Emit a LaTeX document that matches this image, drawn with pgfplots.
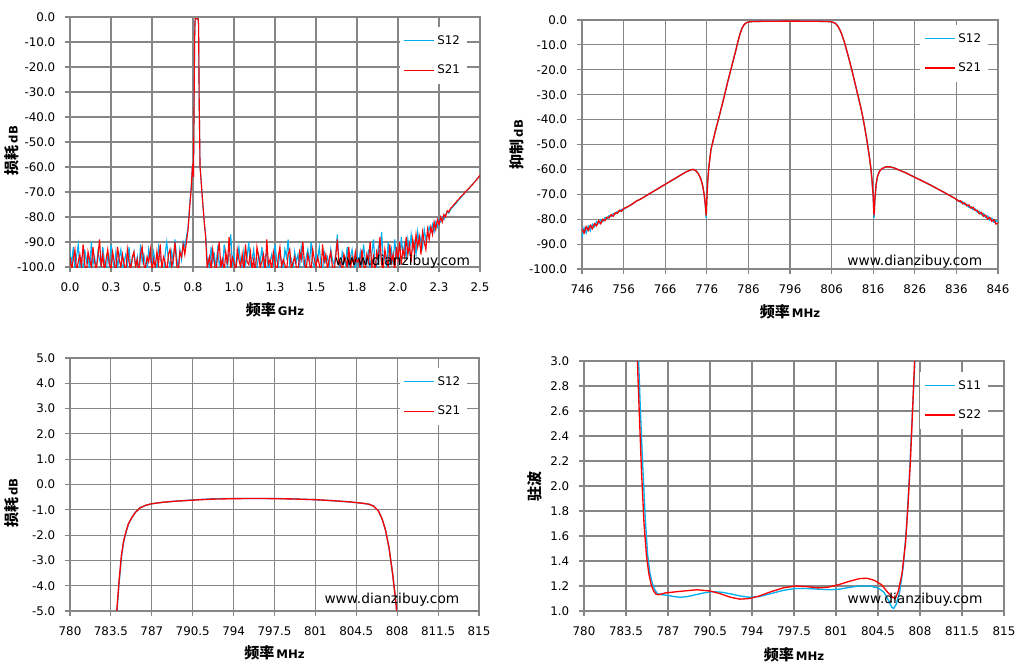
\documentclass[border=0pt]{standalone}
\usepackage{fontspec}
\setmainfont{DejaVu Sans}
\newfontfamily\cjk{Noto Sans CJK SC}
\usepackage{pgfplots}
\pgfplotsset{compat=1.18}
\definecolor{sblue}{RGB}{0,176,240}
\definecolor{sred}{RGB}{255,0,0}
\definecolor{gridgray}{RGB}{134,134,134}
\newcommand\tickfont{\fontsize{8.9pt}{10pt}\selectfont}
\newcommand\wmfont{\fontsize{10.3pt}{12pt}\selectfont}
\newcommand\lab[2]{{\fontsize{11.3pt}{12pt}\selectfont\cjk\bfseries #1}\hspace{1.5pt}{\fontsize{8.8pt}{10pt}\selectfont\bfseries #2}}
\pgfplotsset{
  common/.style={
    scale only axis, anchor=north west, clip mode=individual,
    axis line style={draw=gridgray, line width=0.8pt},
    grid=major, major grid style={draw=gridgray, line width=0.8pt},
    tick align=outside, tick pos=left, major tick length=4pt,
    tick style={draw=gridgray, line width=0.8pt},
    ticklabel style={font=\tickfont},
    /pgf/number format/assume math mode=true,
    xticklabel style={yshift=-4pt},
    yticklabel style={xshift=-3.5pt},
    x label style={anchor=center},
    y label style={anchor=center},
    legend style={draw=none, fill=white, font=\tickfont, inner xsep=3pt, inner ysep=4pt, row sep=10pt, cells={anchor=west}},
    legend image code/.code={\draw[#1] (0pt,0pt) -- (22.5pt,0pt);},
    /tikz/every even column/.append style={column sep=1pt},
  },
  ydec/.style={yticklabel style={/pgf/number format/.cd, fixed, fixed zerofill, precision=1}},
}
\begin{document}
\begin{tikzpicture}
\path[use as bounding box] (0,0) rectangle (770.25pt,-500.25pt);

%================ top left =================
\begin{axis}[common, ydec, at={(52.5pt,-12.75pt)}, width=307.5pt, height=187.5pt,
  xmin=0, xmax=2.5, ymin=-100, ymax=0,
  xtick={0,0.25,0.5,0.75,1,1.25,1.5,1.75,2,2.25,2.5},
  xticklabels={0.0,0.3,0.5,0.8,1.0,1.3,1.5,1.8,2.0,2.3,2.5},
  ytick={-100,-90,-80,-70,-60,-50,-40,-30,-20,-10,0},
  xlabel={\lab{频率}{GHz}}, ylabel={\lab{损耗}{dB}},
  x label style={at={(axis description cs:0.5,-0.172)}},
  y label style={at={(axis description cs:-0.1415,0.465)}},
  legend style={at={(axis description cs:0.968,0.96)}, anchor=north east}]
\addplot[sblue, line width=0.85pt] coordinates {
(0.00,-94)(0.01,-99)(0.02,-92)(0.03,-101)(0.04,-96)(0.05,-91)(0.06,-100)(0.07,-97)(0.08,-103)(0.09,-93)
(0.10,-98)(0.11,-95)(0.12,-102)(0.13,-90)(0.14,-99)(0.15,-96)(0.16,-101)(0.17,-94)(0.18,-97)(0.19,-100)
(0.20,-92)(0.21,-98)(0.22,-103)(0.23,-95)(0.24,-99)(0.25,-91)(0.26,-97)(0.27,-101)(0.28,-94)(0.29,-100)
(0.30,-96)(0.31,-93)(0.32,-102)(0.33,-98)(0.34,-95)(0.35,-99)(0.36,-92)(0.37,-101)(0.38,-97)(0.39,-94)
(0.40,-100)(0.41,-96)(0.42,-103)(0.43,-91)(0.44,-98)(0.45,-95)(0.46,-99)(0.47,-102)(0.48,-93)(0.49,-97)
(0.50,-100)(0.51,-94)(0.52,-98)(0.53,-101)(0.54,-92)(0.55,-96)(0.56,-99)(0.57,-103)(0.58,-95)(0.59,-90)
(0.60,-97)(0.61,-100)(0.62,-94)(0.63,-98)(0.64,-89)(0.65,-96)(0.66,-101)(0.67,-93)(0.68,-97)(0.69,-90)
(0.70,-92)(0.71,-88)(0.72,-84)(0.73,-75)(0.74,-67)(0.746,-60)(0.750,-59.5)(0.753,-64)(0.756,-40)(0.760,-8)
(0.763,-0.7)(0.781,-0.7)(0.784,-3)(0.788,-35)(0.793,-60)(0.796,-62)(0.800,-66)(0.810,-75)(0.820,-83)(0.827,-87)(0.833,-93)(0.837,-99)
(0.84,-96)(0.85,-101)(0.86,-92)(0.87,-98)(0.88,-95)(0.89,-100)(0.90,-93)(0.91,-99)(0.92,-97)(0.93,-102)
(0.94,-91)(0.95,-96)(0.96,-100)(0.97,-94)(0.98,-87)(0.99,-99)(1.00,-95)(1.01,-101)(1.02,-97)(1.03,-92)
(1.04,-98)(1.05,-103)(1.06,-94)(1.07,-99)(1.08,-96)(1.09,-90)(1.10,-100)(1.11,-97)(1.12,-93)(1.13,-99)
(1.14,-101)(1.15,-95)(1.16,-98)(1.17,-92)(1.18,-100)(1.19,-96)(1.20,-94)(1.21,-102)(1.22,-98)(1.23,-95)
(1.24,-99)(1.25,-91)(1.26,-97)(1.27,-100)(1.28,-94)(1.29,-98)(1.30,-101)(1.31,-93)(1.32,-96)(1.33,-89)
(1.34,-99)(1.35,-97)(1.36,-102)(1.37,-94)(1.38,-98)(1.39,-95)(1.40,-100)(1.41,-92)(1.42,-97)(1.43,-101)
(1.44,-96)(1.45,-93)(1.46,-99)(1.47,-90)(1.48,-98)(1.49,-100)(1.50,-95)(1.51,-97)(1.52,-92)(1.53,-99)
(1.54,-101)(1.55,-94)(1.56,-98)(1.57,-96)(1.58,-100)(1.59,-93)(1.60,-97)(1.61,-99)(1.62,-95)(1.63,-87)
(1.64,-98)(1.65,-101)(1.66,-94)(1.67,-97)(1.68,-99)(1.69,-92)(1.70,-100)(1.71,-96)(1.72,-93)(1.73,-98)
(1.74,-101)(1.75,-95)(1.76,-99)(1.77,-94)(1.78,-100)(1.79,-91)(1.80,-97)(1.81,-99)(1.82,-93)(1.83,-101)
(1.84,-95)(1.85,-89)(1.86,-98)(1.87,-100)(1.88,-92)(1.89,-96)(1.90,-86)(1.91,-97)(1.92,-95)(1.93,-100)
(1.94,-90)(1.95,-98)(1.96,-93)(1.97,-99)(1.98,-89)(1.99,-96)(2.00,-94)(2.01,-99)(2.02,-88)(2.03,-95)
(2.04,-91)(2.05,-97)(2.06,-89)(2.07,-94)(2.08,-87)(2.09,-93)(2.10,-90)(2.11,-95)(2.12,-86)(2.13,-91)
(2.14,-88)(2.15,-92)(2.16,-85)(2.17,-89)(2.18,-87)(2.19,-84)(2.20,-86)(2.21,-83)(2.22,-86)(2.23,-82)
(2.24,-84)(2.25,-81)(2.26,-82)(2.27,-80)(2.28,-81)(2.29,-79)(2.30,-78)(2.31,-78.5)(2.32,-77)(2.33,-76.3)
(2.34,-75.5)(2.35,-74.8)(2.36,-74)(2.37,-73.2)(2.38,-72.5)(2.39,-71.6)(2.40,-71)(2.41,-70.2)(2.42,-69.4)(2.43,-68.8)
(2.44,-67.9)(2.45,-67.3)(2.46,-66.5)(2.47,-65.8)(2.48,-64.9)(2.49,-64.2)(2.50,-63.4)
};
\addlegendentry{S12}
\addplot[sred, line width=0.85pt] coordinates {
(0.00,-96)(0.01,-101)(0.02,-97)(0.03,-93)(0.04,-102)(0.05,-98)(0.06,-95)(0.07,-100)(0.08,-91)(0.09,-99)
(0.10,-103)(0.11,-94)(0.12,-97)(0.13,-100)(0.14,-92)(0.15,-98)(0.16,-101)(0.17,-96)(0.18,-89)(0.19,-100)
(0.20,-95)(0.21,-102)(0.22,-97)(0.23,-93)(0.24,-99)(0.25,-101)(0.26,-94)(0.27,-98)(0.28,-103)(0.29,-92)
(0.30,-97)(0.31,-100)(0.32,-95)(0.33,-99)(0.34,-102)(0.35,-93)(0.36,-98)(0.37,-101)(0.38,-96)(0.39,-94)
(0.40,-100)(0.41,-97)(0.42,-103)(0.43,-95)(0.44,-92)(0.45,-99)(0.46,-101)(0.47,-96)(0.48,-98)(0.49,-93)
(0.50,-102)(0.51,-97)(0.52,-100)(0.53,-94)(0.54,-99)(0.55,-91)(0.56,-101)(0.57,-96)(0.58,-98)(0.59,-103)
(0.60,-95)(0.61,-93)(0.62,-100)(0.63,-97)(0.64,-90)(0.65,-99)(0.66,-102)(0.67,-94)(0.68,-96)(0.69,-91)
(0.70,-95)(0.71,-90)(0.72,-85)(0.73,-76)(0.74,-68)(0.746,-60)(0.750,-59)(0.753,-64)(0.756,-40)(0.760,-8)
(0.763,-0.7)(0.781,-0.7)(0.784,-3)(0.788,-35)(0.793,-60)(0.796,-62.5)(0.800,-66)(0.810,-75)(0.820,-83)(0.827,-88)(0.833,-96)(0.837,-101)
(0.84,-99)(0.85,-96)(0.86,-101)(0.87,-93)(0.88,-98)(0.89,-103)(0.90,-95)(0.91,-90)(0.92,-100)(0.93,-97)
(0.94,-102)(0.95,-94)(0.96,-99)(0.97,-88)(0.98,-101)(0.99,-96)(1.00,-98)(1.01,-103)(1.02,-93)(1.03,-97)
(1.04,-100)(1.05,-95)(1.06,-102)(1.07,-91)(1.08,-98)(1.09,-99)(1.10,-94)(1.11,-101)(1.12,-97)(1.13,-103)
(1.14,-92)(1.15,-96)(1.16,-100)(1.17,-98)(1.18,-95)(1.19,-102)(1.20,-89)(1.21,-99)(1.22,-97)(1.23,-101)
(1.24,-94)(1.25,-98)(1.26,-103)(1.27,-96)(1.28,-92)(1.29,-100)(1.30,-97)(1.31,-99)(1.32,-102)(1.33,-95)
(1.34,-93)(1.35,-101)(1.36,-98)(1.37,-96)(1.38,-100)(1.39,-103)(1.40,-94)(1.41,-97)(1.42,-90)(1.43,-99)
(1.44,-101)(1.45,-95)(1.46,-98)(1.47,-102)(1.48,-93)(1.49,-97)(1.50,-100)(1.51,-96)(1.52,-99)(1.53,-103)
(1.54,-91)(1.55,-98)(1.56,-95)(1.57,-101)(1.58,-97)(1.59,-94)(1.60,-100)(1.61,-102)(1.62,-96)(1.63,-89)
(1.64,-99)(1.65,-98)(1.66,-103)(1.67,-95)(1.68,-97)(1.69,-100)(1.70,-92)(1.71,-101)(1.72,-96)(1.73,-99)
(1.74,-94)(1.75,-98)(1.76,-97)(1.77,-101)(1.78,-93)(1.79,-99)(1.80,-102)(1.81,-95)(1.82,-98)(1.83,-90)
(1.84,-100)(1.85,-96)(1.86,-103)(1.87,-94)(1.88,-97)(1.89,-88)(1.90,-99)(1.91,-101)(1.92,-93)(1.93,-97)
(1.94,-100)(1.95,-91)(1.96,-98)(1.97,-95)(1.98,-102)(1.99,-92)(2.00,-97)(2.01,-90)(2.02,-99)(2.03,-93)
(2.04,-96)(2.05,-88)(2.06,-95)(2.07,-91)(2.08,-98)(2.09,-89)(2.10,-94)(2.11,-87)(2.12,-92)(2.13,-88)
(2.14,-95)(2.15,-86)(2.16,-90)(2.17,-93)(2.18,-85)(2.19,-89)(2.20,-84)(2.21,-87)(2.22,-82)(2.23,-85)
(2.24,-81)(2.25,-83)(2.26,-80)(2.27,-82)(2.28,-79)(2.29,-80)(2.30,-77.5)(2.31,-78)(2.32,-76.5)(2.33,-76)
(2.34,-75)(2.35,-74.5)(2.36,-73.5)(2.37,-73)(2.38,-72)(2.39,-71.5)(2.40,-70.8)(2.41,-70)(2.42,-69.3)(2.43,-68.7)
(2.44,-68)(2.45,-67.3)(2.46,-66.6)(2.47,-65.8)(2.48,-65)(2.49,-64.2)(2.50,-63.3)
};
\addlegendentry{S21}
\node[font=\wmfont, anchor=base] at (axis description cs:0.811,0.008) {www.dianzibuy.com};
\end{axis}

%================ top right =================
\begin{axis}[common, ydec, at={(436.5pt,-15pt)}, width=312pt, height=186.75pt,
  xmin=746, xmax=846, ymin=-100, ymax=0,
  xtick={746,756,766,776,786,796,806,816,826,836,846},
  ytick={-100,-90,-80,-70,-60,-50,-40,-30,-20,-10,0},
  xticklabel style={/pgf/number format/.cd, fixed, precision=0, 1000 sep={}},
  xlabel={\lab{频率}{MHz}}, ylabel={\lab{抑制}{dB}},
  x label style={at={(axis description cs:0.5,-0.173)}},
  y label style={at={(axis description cs:-0.156,0.5)}},
  legend style={at={(axis description cs:0.976,0.98)}, anchor=north east}]
\addplot[sblue, line width=1pt] coordinates {
(746,-87.5)(746.5,-83.5)(747,-85.5)(747.5,-82.8)(748,-84.6)(748.5,-82)(749,-83)(749.5,-81)(750,-81.8)(750.5,-80.2)
(751,-80.9)(751.5,-79.4)(752,-79.8)(752.5,-78.6)(753,-78.9)(753.5,-77.8)(754,-77.9)(754.5,-76.9)(755,-77)(755.5,-76.1)
(756,-76)(757,-75)(758,-74)(759,-72.8)(760,-72)(762,-70)(764,-68)(766,-66)(768,-64)(770,-62)(771,-61)(772,-60.3)
(772.7,-60)(773.3,-60.4)(774,-61.8)(774.6,-64)(775.0,-66.5)(775.4,-70.5)(775.7,-75.5)(775.85,-79.5)(776.0,-72)(776.2,-65)
(776.5,-59)(777,-52)(778,-45)(779,-38.5)(780,-32)(781,-25)(782,-18.5)(783,-12)(783.5,-8.5)(784,-5.5)(784.5,-3.2)
(785,-1.8)(785.5,-1.1)(786,-0.8)(787,-0.6)(790,-0.5)(796,-0.45)(802,-0.5)(805,-0.6)(806,-0.75)(806.5,-1.0)(807,-1.5)
(807.5,-2.5)(808,-4)(808.5,-6)(809,-8.5)(810,-14.5)(811,-21)(812,-28)(813,-35)(813.5,-39)(814,-43.5)(814.5,-48.5)
(815,-54)(815.4,-59)(815.7,-64)(816.0,-71)(816.2,-79.5)(816.4,-72)(816.7,-66)(817,-63)(817.5,-60.8)(818,-59.8)
(819,-59)(820,-59)(821,-59.4)(822,-60.1)(824,-61.5)(826,-63.2)(828,-64.8)(830,-66.5)(832,-68.3)(834,-70.1)(836,-72)
(836.5,-72.5)(837,-73.3)(837.5,-73)(838,-74.2)(838.5,-74)(839,-75.3)(839.5,-75)(840,-76.2)(840.5,-75.9)(841,-77.2)
(841.5,-76.8)(842,-78.2)(842.5,-77.7)(843,-79.2)(843.5,-78.7)(844,-80.3)(844.5,-79.6)(845,-81.2)(845.5,-80.6)(846,-81)
};
\addlegendentry{S12}
\addplot[sred, line width=1pt] coordinates {
(746,-84)(746.5,-85.5)(747,-83)(747.5,-84.5)(748,-82.5)(748.5,-83.8)(749,-81.8)(749.5,-82.6)(750,-80.6)(750.5,-81.8)
(751,-80)(751.5,-80.6)(752,-79.2)(752.5,-79.5)(753,-78.2)(753.5,-78.8)(754,-77.4)(754.5,-77.6)(755,-76.4)(755.5,-76.8)
(756,-75.7)(757,-75)(758,-74)(759,-72.8)(760,-72)(762,-70)(764,-68)(766,-66)(768,-64)(770,-62)(771,-61)(772,-60.3)
(772.7,-60)(773.3,-60.4)(774,-61.8)(774.6,-64)(775.0,-66.5)(775.4,-70.5)(775.7,-75)(775.85,-78.5)(776.0,-72)(776.2,-65)
(776.5,-59)(777,-52)(778,-45)(779,-38.5)(780,-32)(781,-25)(782,-18.5)(783,-12)(783.5,-8.5)(784,-5.5)(784.5,-3.2)
(785,-1.8)(785.5,-1.1)(786,-0.8)(787,-0.6)(790,-0.5)(796,-0.45)(802,-0.5)(805,-0.6)(806,-0.75)(806.5,-1.0)(807,-1.5)
(807.5,-2.5)(808,-4)(808.5,-6)(809,-8.5)(810,-14.5)(811,-21)(812,-28)(813,-35)(813.5,-39)(814,-43.5)(814.5,-48.5)
(815,-54)(815.4,-59)(815.7,-64)(816.0,-71)(816.2,-78.5)(816.4,-72)(816.7,-66)(817,-63)(817.5,-60.8)(818,-59.8)
(819,-59)(820,-59)(821,-59.4)(822,-60.1)(824,-61.5)(826,-63.2)(828,-64.8)(830,-66.5)(832,-68.3)(834,-70.1)(836,-72)
(836.5,-72.8)(837,-72.6)(837.5,-73.8)(838,-73.5)(838.5,-74.6)(839,-74.3)(839.5,-75.6)(840,-75.2)(840.5,-76.5)(841,-76.4)
(841.5,-77.8)(842,-77.3)(842.5,-78.8)(843,-78.4)(843.5,-79.9)(844,-79.3)(844.5,-80.8)(845,-80.2)(845.5,-81.9)(846,-81.5)
};
\addlegendentry{S21}
\node[font=\wmfont, anchor=base] at (axis description cs:0.80,0.013) {www.dianzibuy.com};
\end{axis}

%================ bottom left =================
\begin{axis}[common, ydec, at={(52.5pt,-268.5pt)}, width=306.75pt, height=189.75pt,
  xmin=780, xmax=815, ymin=-5, ymax=5,
  xtick={780,783.5,787,790.5,794,797.5,801,804.5,808,811.5,815},
  xticklabels={780,783.5,787,790.5,794,797.5,801,804.5,808,811.5,815},
  ytick={-5,-4,-3,-2,-1,0,1,2,3,4,5},
  xlabel={\lab{频率}{MHz}}, ylabel={\lab{损耗}{dB}},
  x label style={at={(axis description cs:0.5,-0.166)}},
  y label style={at={(axis description cs:-0.1418,0.427)}},
  legend style={at={(axis description cs:0.971,0.96)}, anchor=north east}]
\addplot[sblue, line width=1pt] coordinates {
(783.82,-6.5)(784.02,-5.0)(784.22,-3.8)(784.42,-2.8)(784.62,-2.2)(784.82,-1.85)(785.02,-1.55)(785.3,-1.3)(785.6,-1.1)
(786.0,-0.92)(786.5,-0.82)(787.0,-0.76)(788,-0.7)(789,-0.66)(790.5,-0.61)(792,-0.57)(794,-0.55)(796,-0.55)(797.5,-0.55)
(799,-0.57)(801,-0.6)(802.5,-0.64)(804,-0.69)(805,-0.74)(805.6,-0.78)(806.0,-0.86)(806.4,-1.05)(806.7,-1.35)(807.0,-1.8)
(807.3,-2.5)(807.6,-3.5)(807.9,-4.7)(808.1,-6)
};
\addlegendentry{S12}
\addplot[sred, line width=1pt] coordinates {
(783.8,-6.5)(784.0,-5.0)(784.2,-3.8)(784.4,-2.8)(784.6,-2.2)(784.8,-1.85)(785.0,-1.55)(785.3,-1.3)(785.6,-1.1)
(786.0,-0.92)(786.5,-0.82)(787.0,-0.76)(788,-0.7)(789,-0.66)(790.5,-0.62)(792,-0.58)(794,-0.56)(796,-0.55)(797.5,-0.56)
(799,-0.57)(801,-0.6)(802.5,-0.64)(804,-0.69)(805,-0.74)(805.6,-0.78)(806.0,-0.86)(806.4,-1.05)(806.7,-1.35)(807.0,-1.8)
(807.3,-2.5)(807.6,-3.5)(807.9,-4.7)(808.1,-6)
};
\addlegendentry{S21}
\node[font=\wmfont, anchor=base] at (axis description cs:0.787,0.03) {www.dianzibuy.com};
\end{axis}

%================ bottom right =================
\begin{axis}[common, at={(438pt,-270.75pt)}, width=315pt, height=187.5pt,
  xmin=780, xmax=815, ymin=1, ymax=3,
  xtick={780,783.5,787,790.5,794,797.5,801,804.5,808,811.5,815},
  xticklabels={780,783.5,787,790.5,794,797.5,801,804.5,808,811.5,815},
  ytick={1,1.2,1.4,1.6,1.8,2,2.2,2.4,2.6,2.8,3},
  yticklabels={1.0,1.2,1.4,1.6,1.8,2.0,2.2,2.4,2.6,2.8,3.0},
  xlabel={\lab{频率}{MHz}}, ylabel={{\fontsize{11.3pt}{12pt}\selectfont\cjk\bfseries 驻波}},
  x label style={at={(axis description cs:0.5,-0.176)}},
  y label style={at={(axis description cs:-0.1167,0.5)}},
  legend style={at={(axis description cs:0.962,0.956)}, anchor=north east}]
\addplot[sblue, line width=1pt] coordinates {
(784.4,3.3)(784.55,3.0)(784.7,2.6)(784.9,2.15)(785.1,1.75)(785.3,1.45)(785.5,1.3)(785.7,1.22)(785.9,1.17)(786.1,1.14)
(786.5,1.13)(787.0,1.125)(787.5,1.115)(788.0,1.11)(788.6,1.115)(789.3,1.13)(790.0,1.145)(790.7,1.155)(791.5,1.15)(792.3,1.135)
(793.0,1.12)(793.8,1.11)(794.6,1.115)(795.6,1.14)(796.6,1.165)(797.6,1.18)(798.6,1.18)(799.5,1.175)(800.5,1.17)(801.3,1.175)
(802.2,1.19)(803.0,1.20)(803.8,1.20)(804.5,1.185)(805.0,1.15)(805.4,1.08)(805.65,1.03)(805.8,1.02)(806.0,1.05)(806.3,1.15)
(806.6,1.35)(806.9,1.7)(807.1,2.05)(807.3,2.45)(807.5,2.85)(807.6,3.05)(807.7,3.3)
};
\addlegendentry{S11}
\addplot[sred, line width=1pt] coordinates {
(784.3,3.3)(784.45,3.0)(784.6,2.6)(784.8,2.1)(785.0,1.7)(785.2,1.45)(785.4,1.3)(785.6,1.21)(785.8,1.16)(786.0,1.135)
(786.2,1.13)(786.4,1.135)(786.8,1.145)(787.5,1.152)(788.3,1.16)(789.4,1.17)(790.5,1.16)(791.3,1.14)(792.2,1.11)(793.0,1.095)
(793.8,1.10)(794.6,1.12)(795.6,1.155)(796.6,1.185)(797.6,1.20)(798.6,1.195)(799.5,1.185)(800.3,1.19)(801.2,1.21)(802.2,1.24)
(803.0,1.26)(803.6,1.262)(804.2,1.245)(804.8,1.21)(805.3,1.15)(805.7,1.11)(805.95,1.10)(806.2,1.16)(806.5,1.3)(806.8,1.55)
(807.0,1.85)(807.2,2.2)(807.4,2.65)(807.55,3.0)(807.65,3.3)
};
\addlegendentry{S22}
\node[font=\wmfont, anchor=base] at (axis description cs:0.788,0.031) {www.dianzibuy.com};
\end{axis}
\end{tikzpicture}
\end{document}
